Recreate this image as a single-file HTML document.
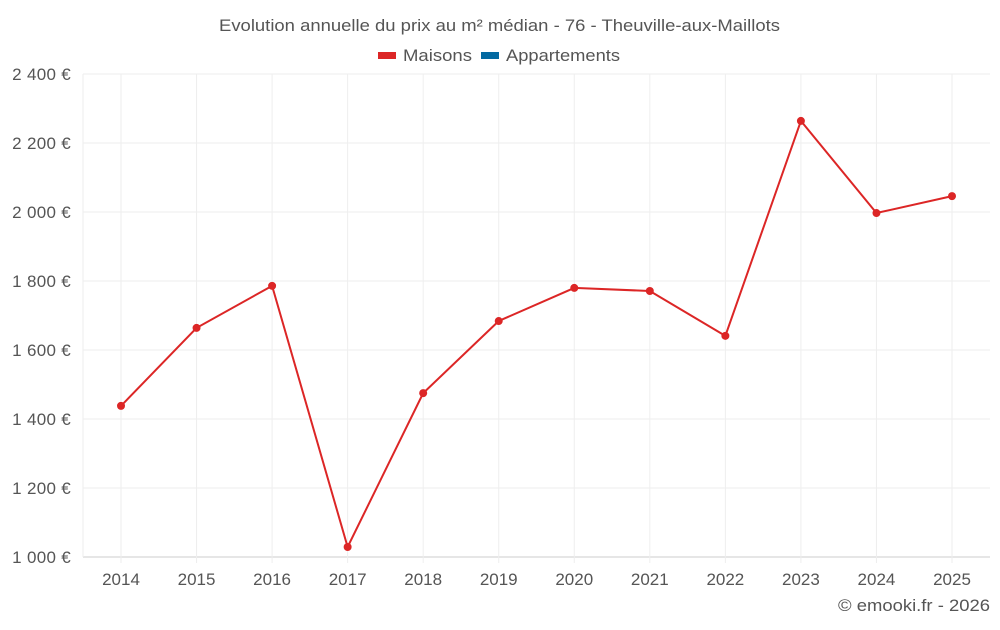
<!DOCTYPE html>
<html><head><meta charset="utf-8"><style>
body{margin:0;background:#fff;font-family:"Liberation Sans",sans-serif;}
svg text{font-family:"Liberation Sans",sans-serif;fill:#555;}
</style></head><body>
<svg id="c" width="1000" height="625">
<text x="219" y="31" textLength="561" lengthAdjust="spacingAndGlyphs" font-size="17">Evolution annuelle du prix au m² médian - 76 - Theuville-aux-Maillots</text>
<g>
<rect x="378" y="52" width="18" height="7" fill="#dc2626"/>
<text x="403" y="61" textLength="69" lengthAdjust="spacingAndGlyphs" font-size="17">Maisons</text>
<rect x="481" y="52" width="18" height="7" fill="#0369a1"/>
<text x="506" y="61" textLength="114" lengthAdjust="spacingAndGlyphs" font-size="17">Appartements</text>
</g>
<g id="grid"></g><g id="axes"></g><g id="series"></g>
<text x="838" y="611" textLength="152" lengthAdjust="spacingAndGlyphs" font-size="17">© emooki.fr - 2026</text>
</svg>
<script>
const years=["2014","2015","2016","2017","2018","2019","2020","2021","2022","2023","2024","2025"];
const maisons=[1438,1664,1786,1029,1475,1684,1780,1771,1641,2264,1997,2046];
const yTicks=[1000,1200,1400,1600,1800,2000,2200,2400];
const yLabels=["1 000 €","1 200 €","1 400 €","1 600 €","1 800 €","2 000 €","2 200 €","2 400 €"];
const NS="http://www.w3.org/2000/svg";
const L=83,R=990,T=74,B=557;
const y=v=>B-(v-1000)/1400*(B-T);
const x=i=>121+i*(952-121)/11;
function mk(tag,attrs,parent){const e=document.createElementNS(NS,tag);for(const k in attrs)e.setAttribute(k,attrs[k]);document.getElementById(parent).appendChild(e);return e;}
yTicks.forEach((v,i)=>{
 const l=mk('line',{x1:L,x2:R,y1:y(v),y2:y(v),stroke:i==0?'#ccc':'#eee'},'grid');
 
 
 const t=mk('text',{x:71,y:y(v)+6,'text-anchor':'end','font-size':17,'letter-spacing':'0.3'},'axes');
 t.textContent=yLabels[i];
 
 
});
const lv=mk('line',{x1:L,x2:L,y1:T,y2:B,stroke:'#eee'},'grid');


years.forEach((yr,i)=>{
 const l=mk('line',{x1:x(i),x2:x(i),y1:T,y2:B+6,stroke:'#eee'},'grid');
 
 
 const t=mk('text',{x:x(i),y:585,'text-anchor':'middle','font-size':17},'axes');
 t.textContent=yr;
 
 
});
const p=mk('polyline',{points:maisons.map((v,i)=>x(i)+','+y(v)).join(' '),fill:'none',stroke:'#dc2626','stroke-width':2},'series');


maisons.forEach((v,i)=>{
 const c=mk('circle',{cx:x(i),cy:y(v),r:4,fill:'#dc2626'},'series');
 
 
});
</script>
</body></html>
